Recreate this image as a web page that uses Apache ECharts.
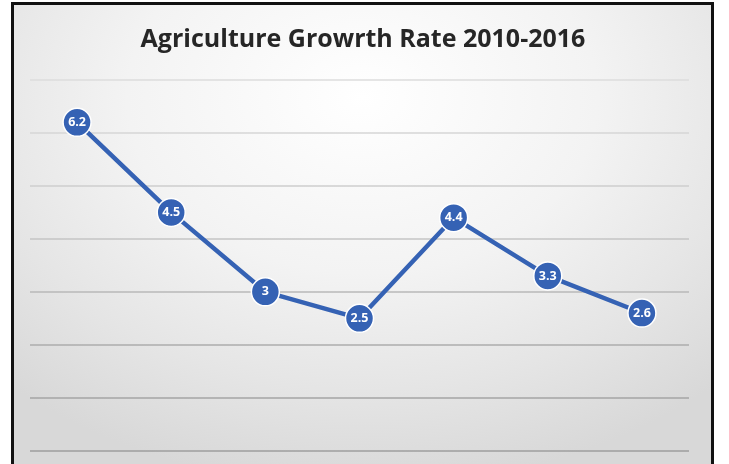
<!DOCTYPE html>
<html>
<head>
<meta charset="utf-8">
<script src="https://cdn.jsdelivr.net/npm/echarts@6/dist/echarts.min.js"></script>
<style>
html,body{margin:0;padding:0;background:#fff;}
#frame{position:absolute;left:11px;top:2px;width:697px;height:460px;
  border-left:3px solid #111;border-top:3px solid #111;border-right:3px solid #111;border-bottom:1px solid #999;
  background:radial-gradient(ellipse 75% 85% at 50% 20%, #ffffff 0%, #f3f3f3 45%, #e5e5e5 75%, #d8d8d8 100%);}
#chart{position:absolute;left:0;top:0;width:729px;height:464px;}
</style>
</head>
<body>
<div id="frame"></div>
<div id="chart"></div>
<script>
const titleText = 'Agriculture Growrth Rate 2010-2016';
const years = ['2010', '2011', '2012', '2013', '2014', '2015', '2016'];
const growthRate = [6.2, 4.5, 3, 2.5, 4.4, 3.3, 2.6];
const yTicks = [0, 1, 2, 3, 4, 5, 6, 7];

const chart = echarts.init(document.getElementById('chart'), null, {renderer: 'canvas'});
chart.setOption({
  backgroundColor: 'transparent',
  animation: false,
  title: {
    text: titleText,
    left: 358,
    textAlign: 'center',
    top: 22,
    textStyle: {fontFamily: 'Open Sans', fontWeight: 'bold', fontSize: 25, color: '#262626'}
  },
  grid: {left: 30, right: 40, top: 80, bottom: 13.3},
  xAxis: {
    type: 'category',
    data: years,
    boundaryGap: true,
    axisLine: {show: false},
    axisTick: {show: false},
    axisLabel: {show: false}
  },
  yAxis: {
    type: 'value',
    min: yTicks[0],
    max: yTicks[yTicks.length - 1],
    interval: 1,
    axisLine: {show: false},
    axisTick: {show: false},
    axisLabel: {show: false},
    splitLine: {
      lineStyle: {
        width: 1.5,
        color: ['#9e9e9e', '#a4a4a4', '#acacac', '#b8b8b8', '#c4c4c4', '#cecece', '#d6d6d6', '#dcdcdc']
      }
    }
  },
  series: [{
    type: 'line',
    data: growthRate,
    symbol: 'circle',
    symbolSize: 28,
    lineStyle: {color: '#3562b4', width: 4.5},
    itemStyle: {color: '#3562b4', borderColor: '#ffffff', borderWidth: 1.5},
    label: {
      show: true,
      position: 'inside',
      color: '#ffffff',
      fontFamily: 'Open Sans',
      fontWeight: 'bold',
      fontSize: 12.5
    }
  }]
});
</script>
</body>
</html>
